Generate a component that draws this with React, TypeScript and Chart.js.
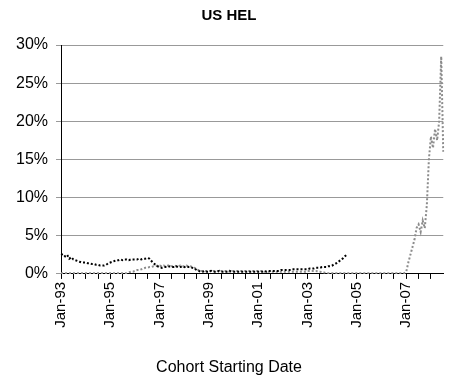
import React, { useEffect, useRef } from "react";
import { Chart, registerables } from "chart.js";

Chart.register(...registerables);

const TITLE = "US HEL";
const X_TITLE = "Cohort Starting Date";

const MONTH_NAMES = ["Jan", "Feb", "Mar", "Apr", "May", "Jun", "Jul", "Aug", "Sep", "Oct", "Nov", "Dec"];
const YEARS = [1993, 1994, 1995, 1996, 1997, 1998, 1999, 2000, 2001, 2002, 2003, 2004, 2005, 2006, 2007, 2008];
const LAST_YEAR_MONTHS = 7; // Jan-08 .. Jul-08

const CATEGORIES: string[] = [];
YEARS.forEach((y, yi) => {
  const n = yi === YEARS.length - 1 ? LAST_YEAR_MONTHS : 12;
  for (let m = 0; m < n; m++) {
    CATEGORIES.push(`${MONTH_NAMES[m]}-${String(y % 100).padStart(2, "0")}`);
  }
});

const TICK_LABELS = ["Jan-93", "Jan-95", "Jan-97", "Jan-99", "Jan-01", "Jan-03", "Jan-05", "Jan-07"];
const Y_TICKS = [0, 5, 10, 15, 20, 25, 30];

// dark series (%), Jan-93 .. Aug-04
const SERIES_DARK = [
  2.5, 2.6, 2.3, 2.5, 2.0, 2.2, 1.9, 1.8, 1.7, 1.6, 1.5, 1.5,
  1.5, 1.4, 1.4, 1.3, 1.3, 1.2, 1.2, 1.1, 1.1, 1.1, 1.2, 1.4,
  1.5, 1.6, 1.7, 1.8, 1.8, 1.9, 1.8, 1.9, 1.9, 1.8, 1.9, 1.9,
  1.9, 1.9, 2.0, 1.9, 2.0, 2.0, 2.1, 2.0, 1.7, 1.4, 1.2, 1.0,
  0.9, 0.8, 0.9, 0.9, 0.9, 1.0, 0.9, 0.9, 1.0, 0.9, 0.9, 1.0,
  0.9, 1.0, 0.9, 0.9, 0.8, 0.7, 0.5, 0.4, 0.3, 0.3, 0.4, 0.3,
  0.3, 0.4, 0.3, 0.3, 0.3, 0.4, 0.3, 0.3, 0.3, 0.3, 0.4, 0.3,
  0.3, 0.3, 0.3, 0.3, 0.3, 0.3, 0.3, 0.3, 0.3, 0.3, 0.3, 0.3,
  0.3, 0.3, 0.3, 0.4, 0.3, 0.4, 0.4, 0.4, 0.4, 0.4, 0.4, 0.5,
  0.5, 0.5, 0.5, 0.5, 0.5, 0.6, 0.6, 0.6, 0.6, 0.6, 0.6, 0.6,
  0.6, 0.7, 0.7, 0.7, 0.8, 0.8, 0.8, 0.9, 0.9, 0.9, 1.0, 1.0,
  1.1, 1.3, 1.4, 1.6, 1.8, 2.0, 2.3, 2.5,
];

// light series (%), Jan-93 .. Jul-08
const SERIES_LIGHT = [
  0.1, 0.1, 0.1, 0.1, 0.1, 0.1, 0.1, 0.1, 0.1, 0.1, 0.1, 0.1,
  0.1, 0.1, 0.1, 0.1, 0.1, 0.1, 0.1, 0.1, 0.1, 0.1, 0.1, 0.1,
  0.1, 0.1, 0.1, 0.1, 0.1, 0.1, 0.1, 0.1, 0.1, 0.2, 0.3, 0.3,
  0.4, 0.5, 0.5, 0.6, 0.7, 0.8, 0.8, 0.9, 0.9, 1.0, 1.0, 1.1,
  1.1, 1.0, 1.1, 1.0, 1.1, 1.1, 1.0, 1.1, 1.0, 1.0, 1.1, 1.0,
  1.0, 1.1, 1.0, 1.0, 0.9, 0.8, 0.6, 0.5, 0.4, 0.4, 0.4, 0.4,
  0.4, 0.3, 0.4, 0.4, 0.4, 0.3, 0.4, 0.4, 0.4, 0.4, 0.3, 0.4,
  0.4, 0.4, 0.4, 0.4, 0.4, 0.4, 0.4, 0.4, 0.4, 0.4, 0.4, 0.4,
  0.4, 0.4, 0.4, 0.3, 0.4, 0.3, 0.3, 0.3, 0.3, 0.3, 0.3, 0.3,
  0.3, 0.3, 0.3, 0.3, 0.3, 0.3, 0.3, 0.3, 0.3, 0.3, 0.3, 0.3,
  0.4, 0.4, 0.4, 0.4, 0.4, 0.3, 0.3, 0.2, 0.2, 0.1, 0.1, 0.1,
  0.1, 0.1, 0.1, 0.1, 0.1, 0.1, 0.1, 0.1, 0.1, 0.1, 0.1, 0.1,
  0.1, 0.1, 0.1, 0.1, 0.1, 0.1, 0.1, 0.1, 0.1, 0.1, 0.1, 0.1,
  0.1, 0.1, 0.1, 0.1, 0.1, 0.1, 0.1, 0.1, 0.1, 0.1, 0.1, 0.1,
  0.3, 1.5, 2.5, 3.5, 4.5, 6.0, 6.5, 5.5, 7.0, 6.0, 9.0, 15.0,
  18.0, 16.5, 19.0, 17.5, 20.0, 28.5, 16.0,
];

const FONT = "'Liberation Sans', Arial, sans-serif";

export default function App() {
  const canvasRef = useRef<HTMLCanvasElement | null>(null);

  useEffect(() => {
    document.body.style.margin = "0";
    const canvas = canvasRef.current;
    if (!canvas) return;
    const lastIndex = CATEGORIES.length - 1;
    const chart = new Chart(canvas, {
      type: "line",
      data: {
        labels: CATEGORIES,
        datasets: [
          {
            label: "Dark",
            data: SERIES_DARK,
            borderColor: "#000000",
            borderWidth: 2,
            borderDash: [2, 2],
            pointRadius: 0,
            tension: 0,
            fill: false,
          },
          {
            label: "Light",
            data: SERIES_LIGHT,
            borderColor: "#8c8c8c",
            borderWidth: 2,
            borderDash: [2, 2],
            pointRadius: 0,
            tension: 0,
            fill: false,
          },
        ],
      },
      options: {
        animation: false,
        responsive: false,
        maintainAspectRatio: false,
        layout: { padding: { left: 8, right: 2, top: 0, bottom: 0 } },
        plugins: {
          legend: { display: false },
          tooltip: { enabled: false },
          title: {
            display: true,
            text: TITLE,
            color: "#000",
            font: { family: FONT, size: 15, weight: "bold" },
            padding: { top: 7, bottom: 20 },
          },
          subtitle: {
            display: true,
            text: X_TITLE,
            position: "bottom",
            color: "#000",
            font: { family: FONT, size: 16, weight: "normal" },
            padding: { top: 27, bottom: 4 },
          },
        },
        scales: {
          x: {
            type: "category",
            afterBuildTicks: (scale: any) => {
              scale.ticks = scale.ticks.filter((t: any) => t.value % 6 === 0);
            },
            grid: {
              display: true,
              drawOnChartArea: false,
              drawTicks: true,
              tickLength: 5,
              color: "#000",
            },
            border: { display: true, color: "#000", width: 1 },
            ticks: {
              autoSkip: false,
              minRotation: 90,
              maxRotation: 90,
              padding: 3,
              color: "#000",
              font: { family: FONT, size: 15 },
              callback: function (this: any, value: any) {
                if (value === lastIndex) return null;
                const lab = this.getLabelForValue(value);
                return TICK_LABELS.includes(lab) ? lab : "";
              },
            },
          },
          y: {
            min: Y_TICKS[0],
            max: Y_TICKS[Y_TICKS.length - 1],
            afterBuildTicks: (scale: any) => {
              scale.ticks = Y_TICKS.map((v) => ({ value: v }));
            },
            grid: {
              color: "#999999",
              lineWidth: 1,
              tickLength: 5,
              drawTicks: true,
            },
            border: { display: true, color: "#000", width: 1 },
            ticks: {
              padding: 8,
              color: "#000",
              font: { family: FONT, size: 16 },
              callback: (v: any) => `${v}%`,
            },
          },
        },
      },
    });
    return () => chart.destroy();
  }, []);

  return (
    <div style={{ width: 452, height: 381 }}>
      <canvas ref={canvasRef} width={452} height={381} style={{ display: "block" }} />
    </div>
  );
}
